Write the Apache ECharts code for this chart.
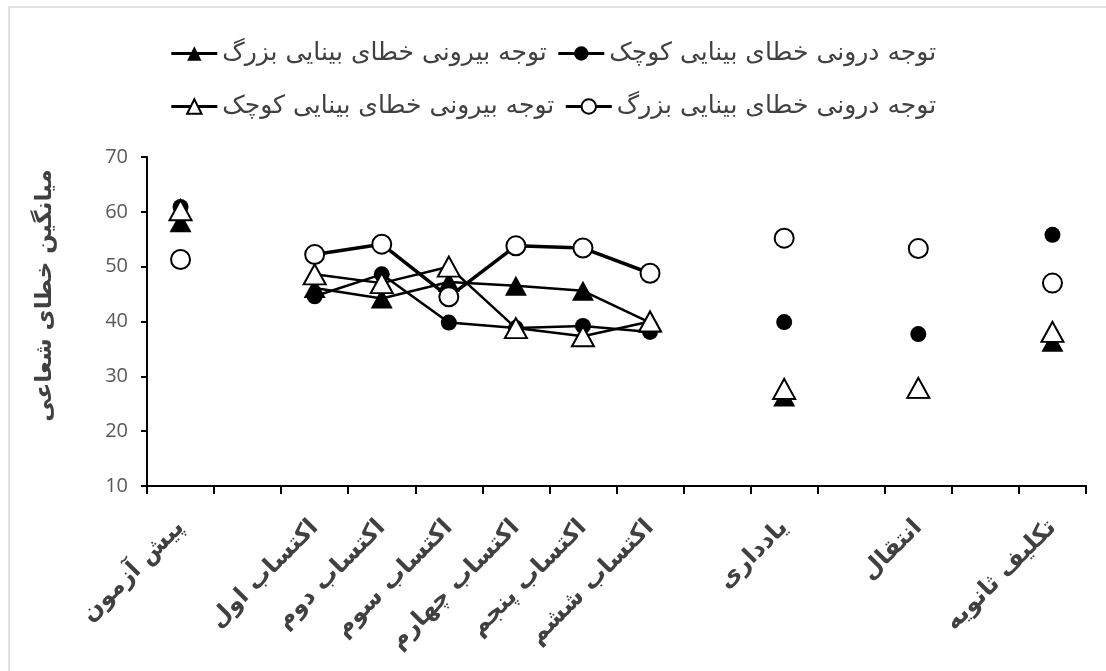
<!DOCTYPE html>
<html>
<head>
<meta charset="utf-8">
<script src="https://cdn.jsdelivr.net/npm/echarts@6/dist/echarts.min.js"></script>
<style>
html,body{margin:0;padding:0;background:#fff;}
#chart{width:1106px;height:671px;}
</style>
</head>
<body>
<div id="chart"></div>
<script>
// categories (blank entries are the empty slots on the axis)
var categories = ['پیش آزمون', ' ', 'اکتساب اول', 'اکتساب دوم', 'اکتساب سوم', 'اکتساب چهارم', 'اکتساب پنجم', 'اکتساب ششم', '  ', 'یادداری', '   ', 'انتقال', '    ', 'تکلیف ثانویه'];

var seriesNames = ['توجه درونی خطای بینایی کوچک', 'توجه بیرونی خطای بینایی بزرگ', 'توجه درونی خطای بینایی بزرگ', 'توجه بیرونی خطای بینایی کوچک'];

// values
var internalSmall = [60.9, null, 44.6, 48.6, 39.8, 38.8, 39.2, 38.1, null, 39.9, null, 37.7, null, 55.8];
var externalLarge = [58.1, null, 46.1, 44.2, 47.2, 46.5, 45.6, 39.8, null, 26.3, null, 27.8, null, 36.3];
var internalLarge = [51.3, null, 52.2, 54.1, 44.5, 53.8, 53.4, 48.8, null, 55.2, null, 53.3, null, 47.0];
var externalSmall = [60.3, null, 48.6, 47.0, 50.0, 38.8, 37.3, 40.0, null, 27.7, null, 27.9, null, 38.1];

var yTicks = {min: 10, max: 70, interval: 10};
var yName = 'میانگین خطای شعاعی';

var arFont = 'DejaVu Sans';

function mk(name, data, symbol, filled, lw, size) {
  return {
    name: name,
    type: 'line',
    data: data,
    connectNulls: false,
    symbol: symbol,
    symbolSize: size,
    showSymbol: true,
    lineStyle: {color: '#000', width: lw},
    itemStyle: {color: filled ? '#000' : '#fff', borderColor: '#000', borderWidth: filled ? 0 : 2},
    emphasis: {disabled: true},
    animation: false
  };
}

var legendBase = {
  left: 'center',
  itemWidth: 46, itemHeight: 18, itemGap: 10,
  lineStyle: {width: 3},
  textStyle: {fontFamily: arFont, fontSize: 25, color: '#404040'},
  selectedMode: false
};

var chart = echarts.init(document.getElementById('chart'));
chart.setOption({
  animation: false,
  backgroundColor: '#fff',
  graphic: [{
    type: 'rect', silent: true,
    shape: {x: 9, y: 7, width: 1300, height: 900},
    style: {fill: 'none', stroke: '#d9d9d9', lineWidth: 1.5}
  }],
  legend: [
    Object.assign({}, legendBase, {top: 36, data: [{name: seriesNames[1]}, {name: seriesNames[0]}]}),
    Object.assign({}, legendBase, {top: 89, data: [{name: seriesNames[3]}, {name: seriesNames[2]}]})
  ],
  grid: {left: 147, right: 20, top: 157, bottom: 185, containLabel: false},
  xAxis: {
    type: 'category',
    data: categories,
    boundaryGap: true,
    axisLine: {lineStyle: {color: '#000', width: 2}},
    axisTick: {show: true, interval: 0, length: 8, lineStyle: {color: '#000', width: 2}},
    axisLabel: {
      interval: 0, rotate: 45, margin: 38,
      fontFamily: arFont, fontSize: 24, fontWeight: 'bold', color: '#404040'
    },
    splitLine: {show: false}
  },
  yAxis: {
    type: 'value',
    min: yTicks.min, max: yTicks.max, interval: yTicks.interval,
    name: yName,
    nameLocation: 'middle',
    nameGap: 90,
    nameTextStyle: {fontFamily: arFont, fontSize: 23, fontWeight: 'bold', color: '#404040', padding: [0, 0, 0, 52]},
    axisLine: {show: true, lineStyle: {color: '#000', width: 2}},
    axisTick: {show: true, length: 6, lineStyle: {color: '#000', width: 2}},
    axisLabel: {margin: 19, fontFamily: 'Open Sans', fontSize: 20, color: '#595959'},
    splitLine: {show: false}
  },
  series: [
    mk(seriesNames[0], internalSmall, 'circle', true, 2.5, 16),
    mk(seriesNames[1], externalLarge, 'triangle', true, 2.5, [22, 20]),
    mk(seriesNames[2], internalLarge, 'circle', false, 3.5, 19),
    mk(seriesNames[3], externalSmall, 'triangle', false, 2.5, [22, 20])
  ]
});
</script>
</body>
</html>
